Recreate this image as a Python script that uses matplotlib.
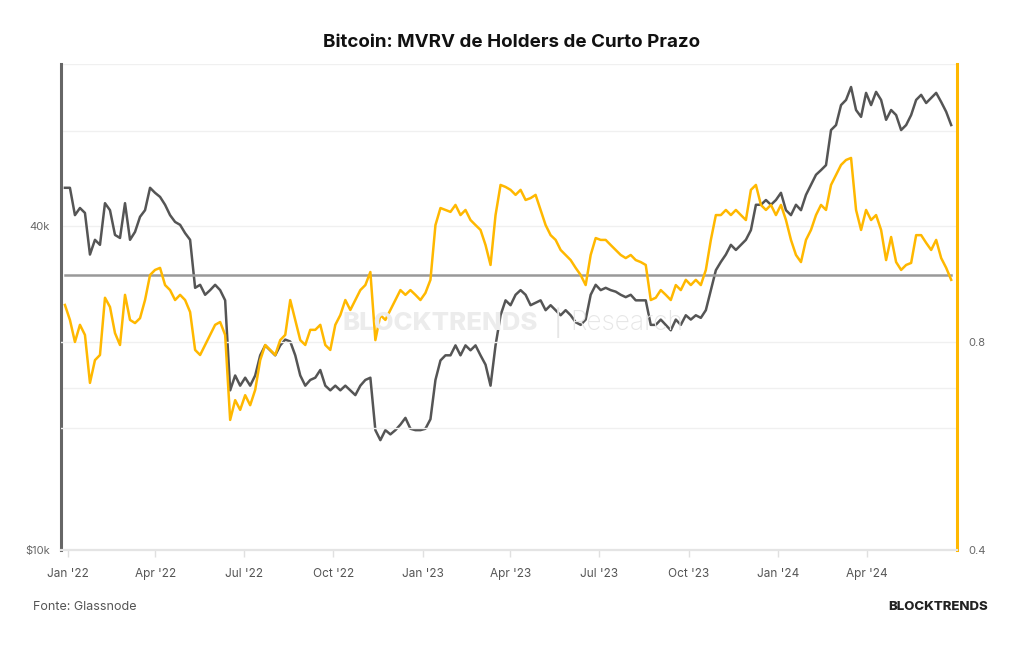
import numpy as np
import pandas as pd
import matplotlib
matplotlib.use('Agg')
import matplotlib.pyplot as plt
import matplotlib.dates as mdates
from matplotlib.ticker import NullLocator, FixedLocator, FixedFormatter

plt.rcParams['font.family'] = ['Inter', 'DejaVu Sans']

# BTC price in USD (thousands) at ~5 day steps
btc_price_k = [
    47.1, 47.1, 41.9, 43.2, 42.3, 35.4, 37.7, 36.9, 44.1, 42.8,
    38.5, 38.0, 44.1, 37.7, 39.0, 41.6, 42.8, 47.1, 46.1, 45.3,
    43.8, 41.9, 40.7, 40.2, 38.8, 37.7, 30.7, 31.1, 29.8, 30.4,
    31.1, 30.4, 29.1, 19.8, 21.1, 20.2, 20.9, 20.2, 21.1, 23.0,
    24.0, 23.5, 23.0, 24.0, 24.6, 24.4, 23.0, 21.1, 20.2, 20.7,
    20.9, 21.6, 20.2, 19.8, 20.2, 19.8, 20.2, 19.8, 19.4, 20.2,
    20.7, 20.9, 16.7, 16.0, 16.7, 16.4, 16.7, 17.1, 17.6, 16.8,
    16.7, 16.7, 16.8, 17.5, 20.7, 22.5, 23.0, 23.0, 24.0, 23.0,
    24.0, 23.5, 24.0, 23.0, 22.1, 20.2, 24.0, 27.3, 29.1, 28.5,
    29.8, 30.4, 29.8, 28.5, 28.8, 29.1, 27.9, 28.5, 27.9, 27.3,
    27.9, 27.3, 26.5, 26.2, 26.8, 29.8, 31.1, 30.4, 30.7, 30.4,
    30.2, 29.8, 29.5, 29.8, 29.1, 29.1, 29.1, 26.2, 26.2, 26.8,
    26.2, 25.6, 26.8, 26.2, 27.3, 26.8, 27.3, 27.0, 27.9, 30.4,
    33.1, 34.3, 35.4, 36.9, 36.1, 36.9, 37.7, 39.3, 43.8, 43.8,
    44.7, 43.8, 44.7, 46.1, 42.8, 41.9, 43.8, 42.8, 45.7, 47.7,
    49.8, 50.8, 51.9, 60.3, 61.6, 67.1, 68.6, 72.5, 65.7, 63.8,
    70.7, 67.1, 71.0, 68.6, 63.0, 65.7, 64.3, 60.3, 61.6, 64.3,
    68.6, 70.1, 67.7, 69.2, 70.7, 68.0, 65.2, 61.6,
]

# short-term holder MVRV, same dates
sth_mvrv = [
    0.905, 0.861, 0.800, 0.847, 0.819, 0.698, 0.753, 0.766, 0.927, 0.899,
    0.824, 0.792, 0.936, 0.861, 0.852, 0.866, 0.920, 1.000, 1.017, 1.024,
    0.967, 0.951, 0.920, 0.936, 0.920, 0.884, 0.779, 0.766, 0.792, 0.819,
    0.847, 0.855, 0.819, 0.617, 0.659, 0.638, 0.670, 0.648, 0.682, 0.753,
    0.792, 0.779, 0.766, 0.805, 0.819, 0.920, 0.861, 0.805, 0.792, 0.833,
    0.833, 0.847, 0.792, 0.779, 0.847, 0.875, 0.920, 0.890, 0.920, 0.951,
    0.967, 1.010, 0.805, 0.875, 0.861, 0.890, 0.920, 0.951, 0.936, 0.951,
    0.936, 0.920, 0.942, 0.984, 1.181, 1.250, 1.242, 1.234, 1.263, 1.221,
    1.242, 1.201, 1.181, 1.162, 1.105, 1.034, 1.221, 1.350, 1.341, 1.328,
    1.306, 1.328, 1.284, 1.292, 1.306, 1.242, 1.181, 1.142, 1.124, 1.087,
    1.069, 1.051, 1.024, 1.000, 0.967, 1.069, 1.131, 1.124, 1.124, 1.105,
    1.087, 1.069, 1.058, 1.069, 1.051, 1.044, 1.034, 0.920, 0.927, 0.951,
    0.936, 0.920, 0.967, 0.951, 0.984, 0.967, 0.984, 0.967, 1.017, 1.124,
    1.221, 1.221, 1.242, 1.221, 1.242, 1.221, 1.201, 1.328, 1.350, 1.263,
    1.242, 1.263, 1.221, 1.263, 1.201, 1.124, 1.069, 1.044, 1.124, 1.162,
    1.221, 1.263, 1.242, 1.350, 1.396, 1.443, 1.467, 1.477, 1.242, 1.162,
    1.242, 1.201, 1.221, 1.162, 1.051, 1.135, 1.044, 1.017, 1.034, 1.041,
    1.142, 1.142, 1.113, 1.087, 1.124, 1.058, 1.024, 0.984,
]

mvrv_ref = 1.0
dates = pd.date_range('2021-12-29', '2024-06-27', periods=len(btc_price_k))
price = np.array(btc_price_k) * 1000

tick_dates = pd.date_range('2022-01-01', '2024-04-01', freq='QS')
left_ticks = [10000, 20000, 40000, 60000, 80000]
left_labels = ['$10k', '', '40k', '', '']
right_ticks = [0.4, 0.6, 0.8]
right_labels = ['0.4', '', '0.8']

gray = '#555555'
yellow = '#FFB800'
grid_c = '#f0f0f0'

fig = plt.figure(figsize=(10.24, 6.45), dpi=100)
ax = fig.add_axes([0.0596, 0.1473, 0.875, 0.7535])
ax2 = ax.twinx()

ax.plot(dates, price, color=gray, lw=1.8, zorder=3)
ax2.plot(dates, sth_mvrv, color=yellow, lw=1.8, zorder=3)
ax2.plot([dates[0], dates[-1]], [mvrv_ref, mvrv_ref], color='#999999', lw=1.8, zorder=2)

ax.set_yscale('log')
ax.set_ylim(10000, 80000)
ax.yaxis.set_major_locator(FixedLocator(left_ticks))
ax.yaxis.set_major_formatter(FixedFormatter(left_labels))
ax.yaxis.set_minor_locator(NullLocator())

ax2.set_yscale('log')
ax2.set_ylim(0.4, 2.02)
ax2.yaxis.set_major_locator(FixedLocator(right_ticks))
ax2.yaxis.set_major_formatter(FixedFormatter(right_labels))
ax2.yaxis.set_minor_locator(NullLocator())

ax.set_xlim(pd.Timestamp('2021-12-25'), pd.Timestamp('2024-07-03'))
ax.set_xticks(tick_dates)
ax.xaxis.set_major_formatter(mdates.DateFormatter("%b '%y"))

ax.grid(axis='y', color=grid_c, lw=1, zorder=0)
ax2.grid(axis='y', color=grid_c, lw=1, zorder=0)
ax.grid(axis='x', visible=False)

for a in (ax, ax2):
    a.spines['top'].set_visible(False)
    a.spines['bottom'].set_color('#e4e4e4')
    a.spines['bottom'].set_linewidth(1.5)
ax.spines['left'].set_color('#666666')
ax.spines['left'].set_linewidth(2.2)
ax.spines['right'].set_visible(False)
ax2.spines['left'].set_visible(False)
ax2.spines['right'].set_color(yellow)
ax2.spines['right'].set_linewidth(2.2)

ax.tick_params(axis='x', colors='#e0e0e0', length=5, width=1, labelcolor='#555555', labelsize=8.5, pad=8)
ax.tick_params(axis='y', length=0, labelcolor='#666666', labelsize=8, pad=8)
ax2.tick_params(axis='y', length=0, labelcolor='#666666', labelsize=8, pad=8)

# watermark
fig.text(0.334, 0.499, 'BLOCKTRENDS', fontsize=18.5, fontweight='heavy', color='#ececec', va='center', zorder=0)
fig.text(0.541, 0.499, '|', fontsize=18, color='#e6e6e6', va='center', zorder=0)
fig.text(0.557, 0.499, 'Research', fontsize=19, fontweight='light', color='#e6e6e6', va='center', zorder=0)

fig.text(0.5, 0.934, 'Bitcoin: MVRV de Holders de Curto Prazo', ha='center', va='center',
         fontsize=13.5, fontweight='bold', color='#111111')
fig.text(0.032, 0.059, 'Fonte: Glassnode', ha='left', va='center', fontsize=9, color='#555555')
fig.text(0.965, 0.059, 'BLOCKTRENDS', ha='right', va='center', fontsize=9.5, fontweight='heavy', color='#222222')

fig.savefig('out.png', dpi=100, facecolor='white')
